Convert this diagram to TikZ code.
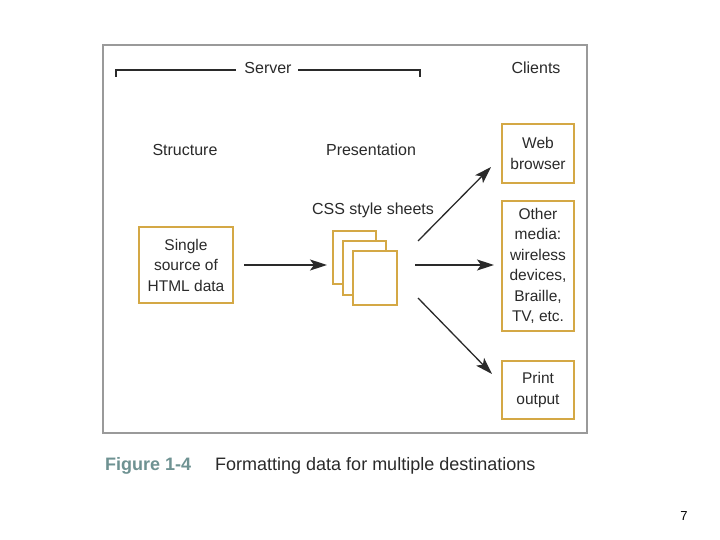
\documentclass[tikz,border=0pt]{standalone}
\usepackage{fontspec}
\setmainfont{Liberation Sans}
\usetikzlibrary{arrows.meta}
\definecolor{gold}{HTML}{D4A845}
\definecolor{framegray}{HTML}{9A9A9A}
\definecolor{txt}{HTML}{2A2A2A}
\definecolor{figcol}{HTML}{6E9292}
\tikzset{
  box/.style={draw=gold, line width=2pt, fill=white, text=txt, align=center, font=\fontsize{15.5}{20.5}\selectfont, inner sep=0pt},
  lbl/.style={text=txt, font=\fontsize{16}{20}\selectfont, inner sep=0pt},
  page/.style={draw=gold, line width=1.8pt, fill=white},
  arr/.style={draw=txt, line width=1.3pt, -{Stealth[length=17pt,width=11pt,inset=4pt]}},
  brk/.style={draw=txt, line width=1.3pt},
}
\begin{document}
\begin{tikzpicture}[x=1pt,y=-1pt]
\useasboundingbox (0,0) rectangle (720,540);
\fill[white] (0,0) rectangle (720,540);
\draw[framegray, line width=2pt] (103,45) rectangle (587,433);
% bracket
\node[lbl] (server) at (268,68) {Server};
\coordinate (bl) at (116,77);
\coordinate (br) at (420,77);
\draw[brk] (bl) -- (116,70) -- ([xshift=-8pt]server.west |- 0,70);
\draw[brk] (br) -- (420,70) -- ([xshift=6pt]server.east |- 0,70);
\node[lbl] (clients) at (536,68) {Clients};
\node[lbl] (structure) at (185,150) {Structure};
\node[lbl] (presentation) at (371,150) {Presentation};
\node[lbl] (css) at (373,210) {CSS style sheets};
% boxes
\node[box, minimum width=94pt, minimum height=76pt] (html) at (186,265) {Single\\source of\\HTML data};
\node[box, minimum width=72pt, minimum height=59pt] (web) at (538,153.5) {Web\\browser};
\node[box, minimum width=72pt, minimum height=130pt] (other) at (538,266) {Other\\media:\\wireless\\devices,\\Braille,\\TV, etc.};
\node[box, minimum width=72pt, minimum height=58pt] (print) at (538,390) {Print\\output};
% pages
\draw[page] (333,231) rectangle (376,284);
\draw[page] (343,241) rectangle (386,295);
\draw[page] (353,251) rectangle (397,305);
\coordinate (cssin) at (327,265);
\coordinate (cssa) at (418,241);
\coordinate (cssb) at (415,265);
\coordinate (cssc) at (418,298);
\draw[arr] ([xshift=10pt]html.east) -- (cssin);
\draw[arr] (cssa) -- (491,167);
\draw[arr] (cssb) -- (494,265);
\draw[arr] (cssc) -- (492,374);
% caption
\node[anchor=west, inner sep=0pt, text=figcol, font=\fontsize{18}{20}\selectfont\bfseries] (fig) at (105,466) {Figure 1-4};
\node[anchor=west, inner sep=0pt, text=txt, font=\fontsize{18}{20}\selectfont] (cap) at (215,466) {Formatting data for multiple destinations};
\node[text=black, inner sep=0pt, font=\fontsize{13}{15}\selectfont] (num) at (684,516) {7};
\end{tikzpicture}
\end{document}
